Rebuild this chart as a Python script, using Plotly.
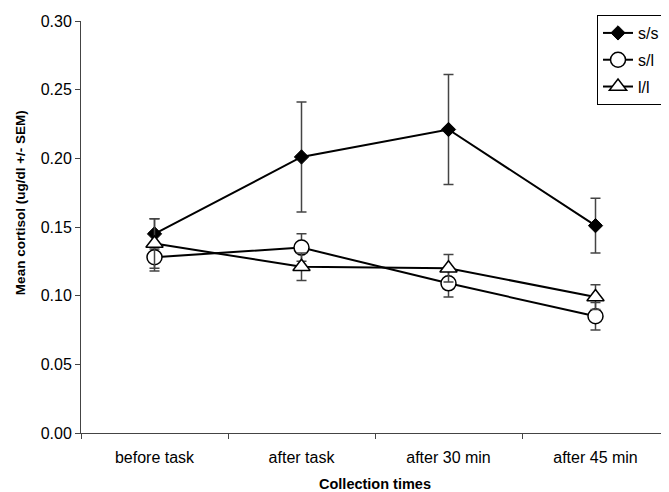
import plotly.graph_objects as go

categories = ["before task", "after task", "after 30 min", "after 45 min"]
ss_mean = [0.145, 0.201, 0.221, 0.151]
ss_sem = [0.011, 0.040, 0.040, 0.020]
sl_mean = [0.128, 0.135, 0.109, 0.085]
sl_sem = [0.010, 0.010, 0.010, 0.010]
ll_mean = [0.138, 0.121, 0.120, 0.099]
ll_sem = [0.018, 0.010, 0.010, 0.009]
y_ticks = [0.00, 0.05, 0.10, 0.15, 0.20, 0.25, 0.30]

FONT = "Liberation Sans, Arial, sans-serif"

def err(arr):
    return dict(type="data", array=arr, visible=True, color="#444444",
                thickness=1.5, width=5)

fig = go.Figure()
fig.add_trace(go.Scatter(
    x=categories, y=ss_mean, name="s/s", mode="lines+markers", legendgroup="a",
    line=dict(color="black", width=2),
    marker=dict(symbol="diamond", size=11, color="black",
                line=dict(color="black", width=1)),
    error_y=err(ss_sem)))
fig.add_trace(go.Scatter(
    x=categories, y=sl_mean, name="s/l", mode="lines+markers", legendgroup="b",
    line=dict(color="black", width=2),
    marker=dict(symbol="circle", size=15, color="white",
                line=dict(color="black", width=1.5)),
    error_y=err(sl_sem)))
fig.add_trace(go.Scatter(
    x=categories, y=ll_mean, name="l/l", mode="lines+markers", legendgroup="c",
    line=dict(color="black", width=2),
    marker=dict(symbol="triangle-up", size=15, color="white",
                line=dict(color="black", width=1.5)),
    error_y=err(ll_sem)))

fig.update_layout(
    width=661, height=484,
    margin=dict(l=73, r=0, t=13, b=59, autoexpand=False),
    paper_bgcolor="white", plot_bgcolor="white",
    font=dict(family=FONT, size=16, color="black"),
    showlegend=True,
    legend=dict(xref="container", yref="container",
                x=0.8911, xanchor="left", y=0.9855, yanchor="top",
                bordercolor="black", borderwidth=1, bgcolor="white",
                font=dict(size=16), tracegroupgap=3, itemwidth=30),
    xaxis=dict(
        type="category", range=[-0.5, 3.5], tickson="boundaries",
        ticks="outside", ticklen=5, tickcolor="#444", showline=True,
        linecolor="#444", linewidth=1, showgrid=False, zeroline=False,
        automargin=False, ticklabelstandoff=10,
        title=dict(text="<b>Collection times</b>", font=dict(size=14.5), standoff=17),
        tickfont=dict(size=16)),
    yaxis=dict(
        range=[0, 0.30], tickvals=y_ticks, tickformat=".2f",
        ticks="outside", ticklen=5, tickcolor="#444", showline=True,
        linecolor="#444", linewidth=1, showgrid=False, zeroline=False,
        automargin=False, tickfont=dict(size=16)),
    annotations=[dict(
        text="<b>Mean cortisol (ug/dl +/- SEM)</b>", textangle=-90,
        xref="paper", yref="paper", x=-0.1037, y=0.558,
        xanchor="center", yanchor="middle", showarrow=False,
        font=dict(size=13.5))],
)

fig.write_html("out.html")
